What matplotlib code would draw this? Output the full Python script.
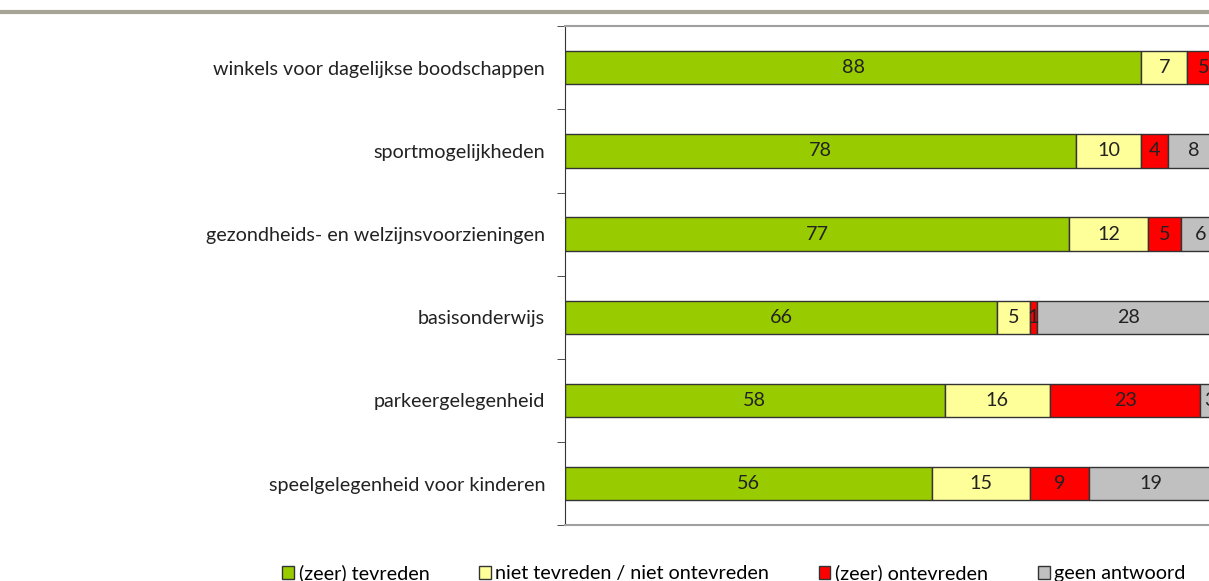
import numpy as np
import matplotlib.pyplot as plt
from matplotlib.lines import Line2D
from matplotlib.patches import Patch

categories = [
    "winkels voor dagelijkse boodschappen",
    "sportmogelijkheden",
    "gezondheids- en welzijnsvoorzieningen",
    "basisonderwijs",
    "parkeergelegenheid",
    "speelgelegenheid voor kinderen",
]
tevreden = [88, 78, 77, 66, 58, 56]
neutraal = [7, 10, 12, 5, 16, 15]
ontevreden = [5, 4, 5, 1, 23, 9]
geen_antwoord = [0, 8, 6, 28, 3, 19]

series_names = ["(zeer) tevreden", "niet tevreden / niet ontevreden",
                "(zeer) ontevreden", "geen antwoord"]
colors = ["#99CC00", "#FFFF99", "#FF0000", "#C0C0C0"]

plt.rcParams['font.family'] = ['Lato', 'DejaVu Sans']
fs = 14.2

fig = plt.figure(figsize=(12.09, 5.81), dpi=100)
ax = fig.add_axes([0.467, 0.096, 0.533, 0.859])

# bovenste grijze lijn
fig.add_artist(Line2D([0.0, 1.0], [0.979, 0.979], color="#A6A397", lw=3,
                      transform=fig.transFigure))

y = np.arange(len(categories))
left = np.zeros(len(categories))
for vals, name, col in zip([tevreden, neutraal, ontevreden, geen_antwoord],
                           series_names, colors):
    vals = np.array(vals, dtype=float)
    ax.barh(y, vals, left=left, height=0.4, color=col, edgecolor="#333333",
            linewidth=1, label=name)
    for yi, l, v in zip(y, left, vals):
        if v > 0:
            ax.text(l + v / 2, yi, f"{int(v)}", ha="center", va="center",
                    fontsize=fs, color="#222222")
    left += vals

ax.set_xlim(0, 98.3)
ax.set_ylim(len(categories) - 0.5, -0.5)
ax.set_yticks(y)
ax.set_yticklabels(categories, fontsize=fs, color="#222222")
ax.set_yticks(np.arange(len(categories) + 1) - 0.5, minor=True)
ax.tick_params(axis="y", which="major", length=0, pad=14)
ax.tick_params(axis="y", which="minor", length=6, direction="out", color="#333333")
ax.set_xticks([])

ax.spines["right"].set_visible(False)
ax.spines["left"].set_color("#333333")
ax.spines["top"].set_color("#A0A0A0")
ax.spines["bottom"].set_color("#A0A0A0")
ax.spines["top"].set_linewidth(1.5)
ax.spines["bottom"].set_linewidth(1.5)

handles = [Patch(facecolor=c, edgecolor="#333333", label=n)
           for c, n in zip(colors, series_names)]
fig.legend(handles=handles, loc="center", bbox_to_anchor=(0.607, 0.013),
           ncol=4, frameon=False, fontsize=fs, handlelength=0.6,
           handleheight=0.6, handletextpad=0.25, columnspacing=2.5)

fig.savefig("out.png", dpi=100)
